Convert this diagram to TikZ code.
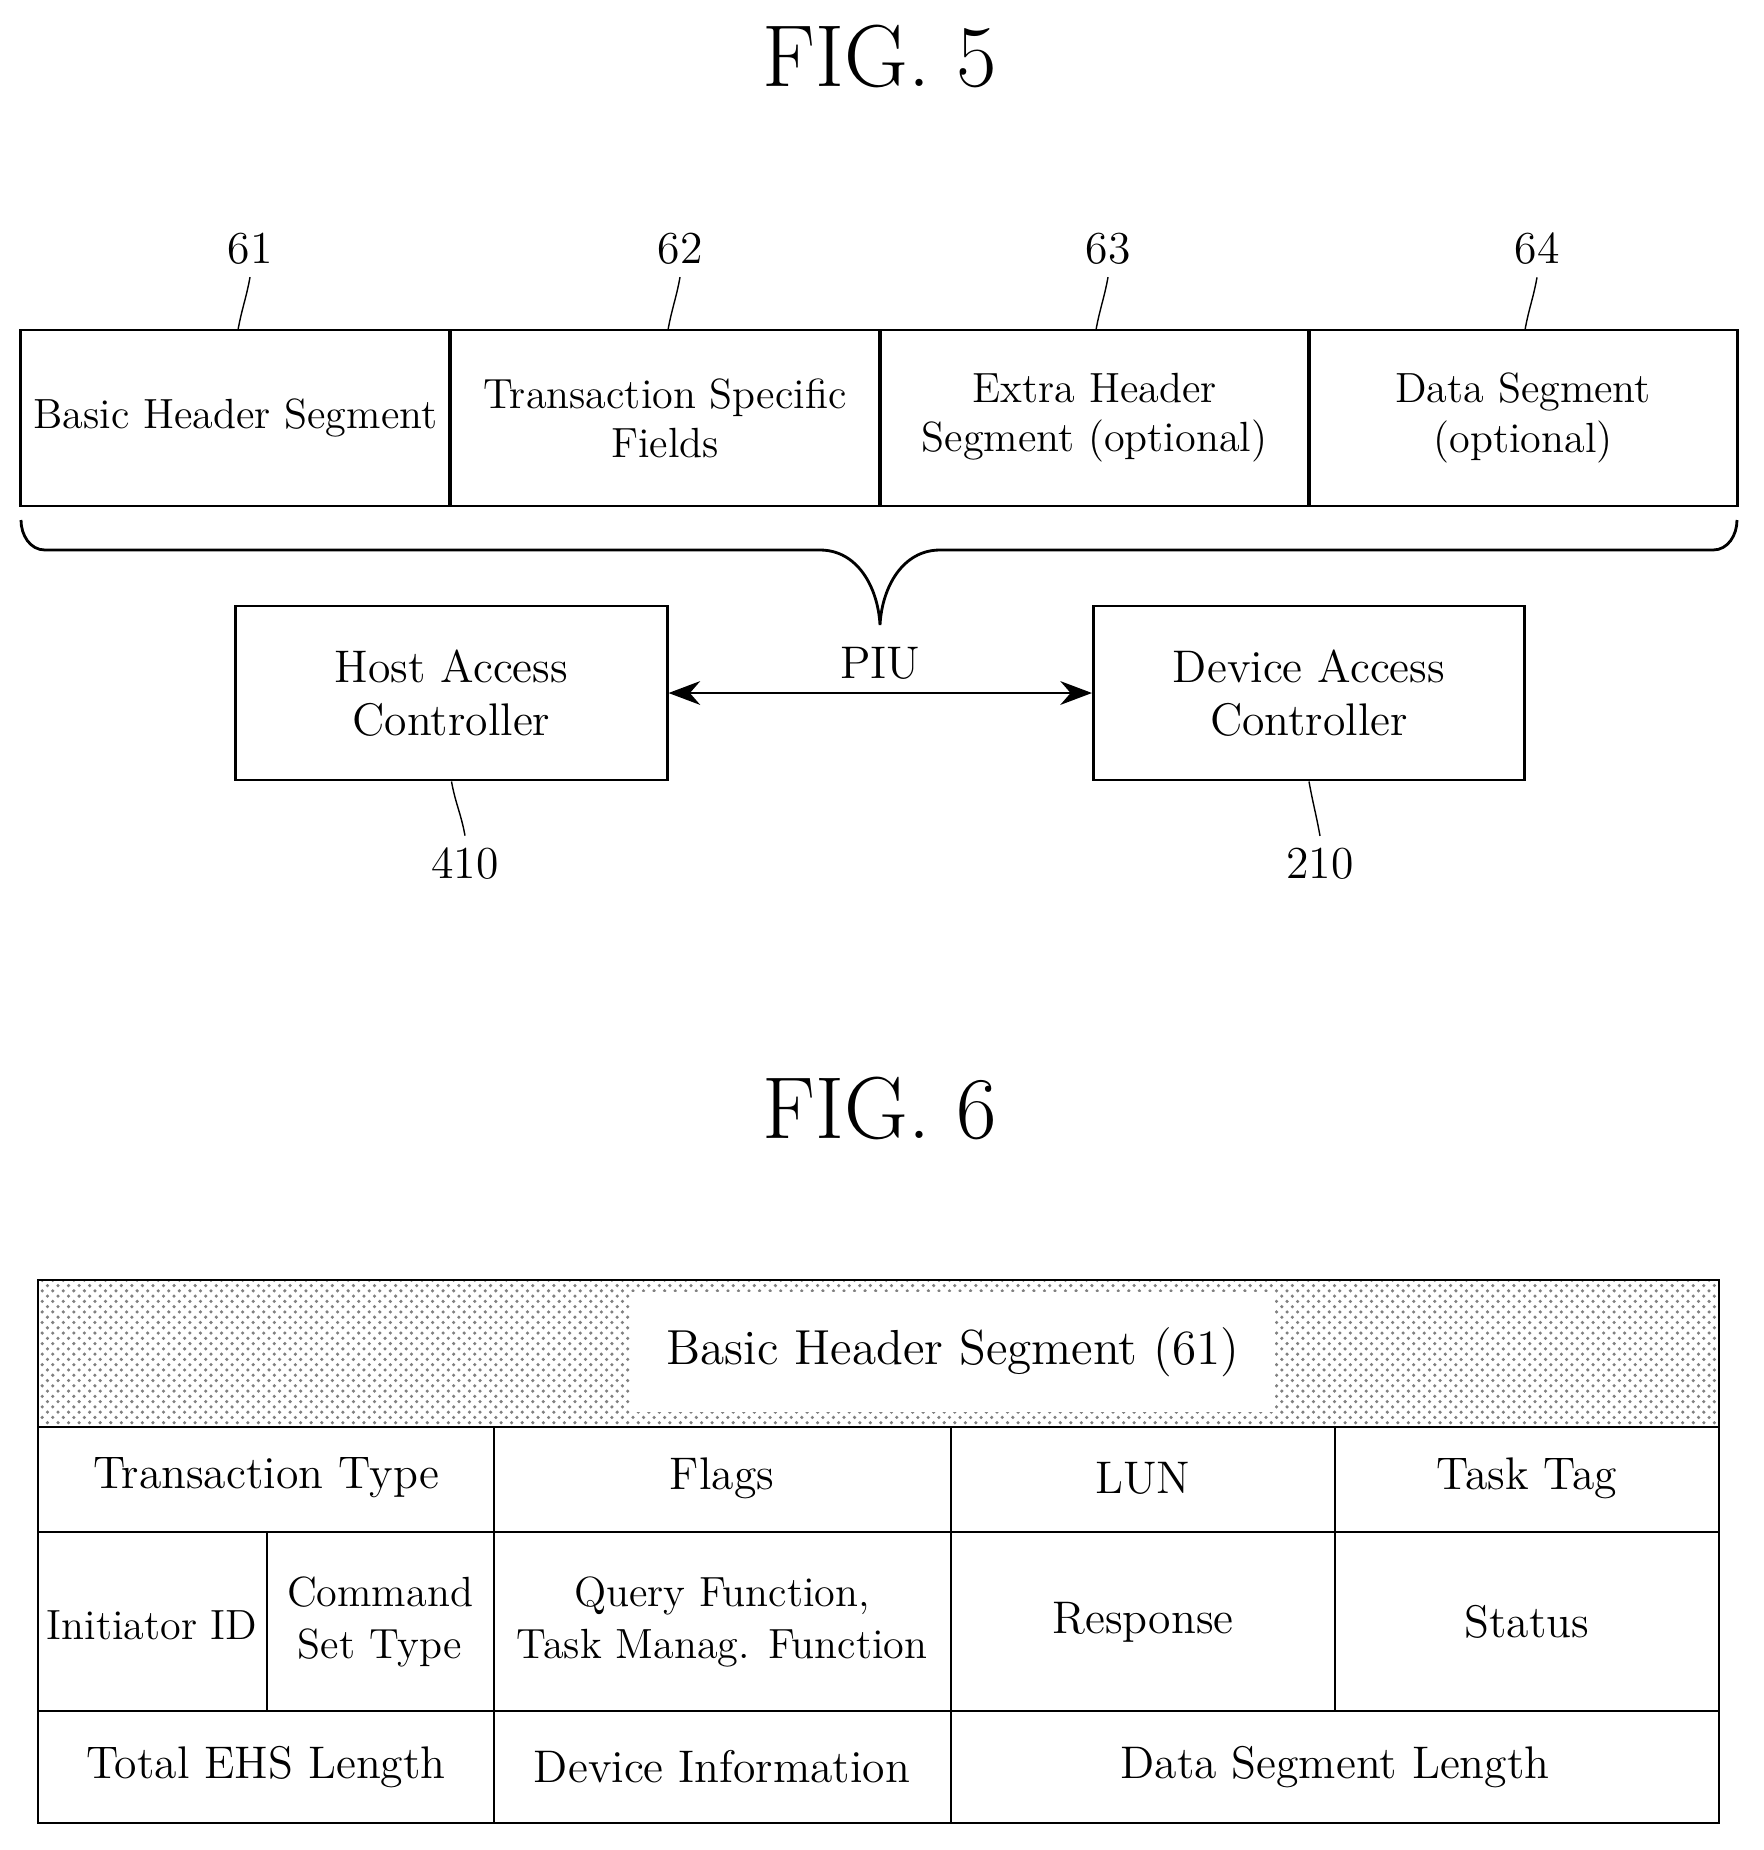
\documentclass[tikz,border=0pt]{standalone}
\usetikzlibrary{positioning,patterns,arrows.meta}
\tikzset{
  field/.style={draw, thick, minimum height=1.76cm, align=center, font=\fontsize{12}{14}\selectfont, inner sep=1pt},
  ctrl/.style={draw, thick, minimum width=4.31cm, minimum height=1.74cm, align=center, font=\fontsize{13}{15}\selectfont},
  refnum/.style={font=\fontsize{13}{15}\selectfont},
  cell/.style={font=\fontsize{13}{16}\selectfont, align=center, inner sep=1pt},
  figtitle/.style={font=\fontsize{25}{30}\selectfont},
}
\begin{document}
\begin{tikzpicture}[x=0.01cm, y=-0.01cm]
  \useasboundingbox (0,0) rectangle (1764,1850);
  % FIG. 5
  \node[figtitle] (fig5) at (880,56) {FIG. 5};
  \node[field, minimum width=4.29cm] (bhs) at (235.5,418) {Basic Header Segment};
  \node[field, minimum width=4.30cm] (tsf) at (665,418) {Transaction Specific\\Fields};
  \node[field, minimum width=4.29cm] (ehs) at (1094.5,418) {Extra Header\\Segment (optional)};
  \node[field, minimum width=4.28cm] (ds) at (1523,418) {Data Segment\\(optional)};
  \foreach \n/\x/\t in {61/250/bhs, 62/680/tsf, 63/1108/ehs, 64/1537/ds} {
    \node[refnum] (r\n) at (\x,249) {\n};
    \draw (r\n.south) to[out=-100,in=80] (\x-12,330);
  }
  % brace under the fields
  \coordinate (tip) at (880,625);
  \draw[thick] (21,520) to[out=-90,in=180] (45,550) -- (820,550)
    to[out=0,in=93] (tip) to[out=87,in=180] (940,550) -- (1713,550) to[out=0,in=-90] (1737,520);
  \node[ctrl] (hac) at (451.5,693) {Host Access\\Controller};
  \node[ctrl] (dac) at (1309,693) {Device Access\\Controller};
  \draw[thick, {Stealth[length=9pt]}-{Stealth[length=9pt]}] (hac) -- node[above=0pt, refnum] (piu) {PIU} (dac);
  \node[refnum] (r410) at (465,864) {410};
  \node[refnum] (r210) at (1320,864) {210};
  \draw (r410.north) to[out=100,in=-80] (hac.south);
  \draw (r210.north) to[out=100,in=-80] (dac.south);
  % FIG. 6
  \node[figtitle] (fig6) at (880,1108) {FIG. 6};
  \fill[pattern=crosshatch dots, pattern color=gray] (38,1280) rectangle (1719,1427);
  \node[cell, fill=white, inner sep=10pt, font=\fontsize{14}{17}\selectfont] (title) at (953,1352) {Basic Header Segment (61)};
  \draw[thick] (38,1280) rectangle (1719,1823);
  \draw[thick] (38,1427) -- (1719,1427) (38,1532) -- (1719,1532) (38,1711) -- (1719,1711);
  \draw[thick] (494,1427) -- (494,1823) (951,1427) -- (951,1823) (1335,1427) -- (1335,1711) (267,1532) -- (267,1711);
  \node[cell] (tt) at (266,1478) {Transaction Type};
  \node[cell] (fl) at (722,1478) {Flags};
  \node[cell] (lun) at (1143,1478) {LUN};
  \node[cell] (tag) at (1527,1478) {Task Tag};
  \node[cell, font=\fontsize{12}{15}\selectfont] (iid) at (152,1625) {Initiator ID};
  \node[cell, font=\fontsize{12}{15}\selectfont] (cst) at (380,1622) {Command\\Set Type};
  \node[cell, font=\fontsize{12}{15}\selectfont] (qf) at (722,1622) {Query Function,\\Task Manag. Function};
  \node[cell] (rsp) at (1143,1622) {Response};
  \node[cell] (st) at (1527,1622) {Status};
  \node[cell] (ehl) at (266,1767) {Total EHS Length};
  \node[cell] (di) at (722,1767) {Device Information};
  \node[cell] (dsl) at (1335,1767) {Data Segment Length};
\end{tikzpicture}
\end{document}
